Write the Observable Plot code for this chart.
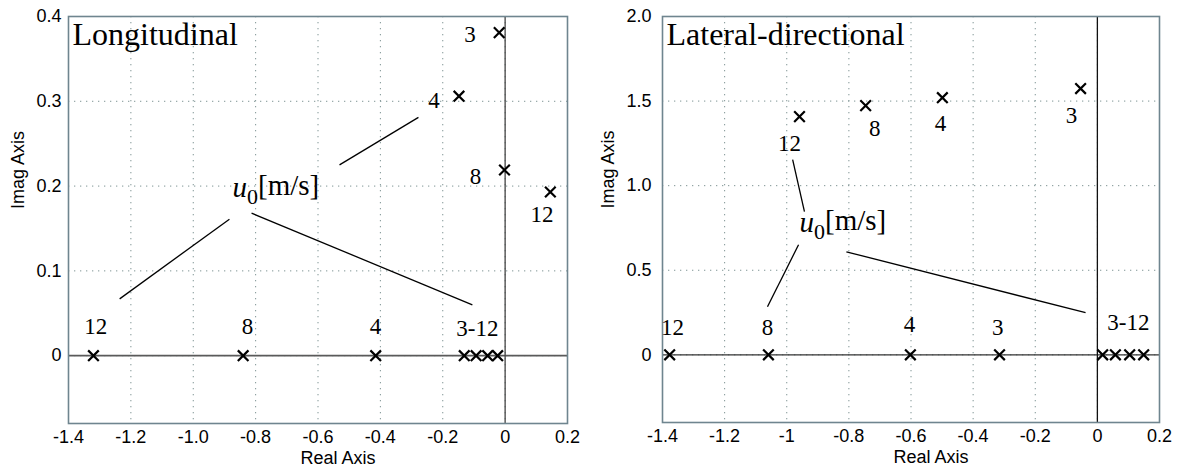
<!DOCTYPE html>
<html><head><meta charset="utf-8">
<script src="https://cdn.jsdelivr.net/npm/d3@7"></script>
<script src="https://cdn.jsdelivr.net/npm/@observablehq/plot@0.6"></script>
<style>
body{margin:0;background:#fff;}
#wrap{display:flex;width:1187px;height:475px;}
</style></head><body><div id="wrap"></div>
<script>
// ---- shared axis ticks ----
const xTicks = [-1.4, -1.2, -1.0, -0.8, -0.6, -0.4, -0.2, 0, 0.2];
const lonXTickLabels = ["-1.4", "-1.2", "-1.0", "-0.8", "-0.6", "-0.4", "-0.2", "0", "0.2"];
const latXTickLabels = ["-1.4", "-1.2", "-1", "-0.8", "-0.6", "-0.4", "-0.2", "0", "0.2"];
const lonYTicks = [0, 0.1, 0.2, 0.3, 0.4];
const lonYTickLabels = ["0", "0.1", "0.2", "0.3", "0.4"];
const latYTicks = [0, 0.5, 1.0, 1.5, 2.0];
const latYTickLabels = ["0", "0.5", "1.0", "1.5", "2.0"];

// ---- longitudinal poles ----
const lonComplexSpeed = [3, 4, 8, 12];
const lonComplexRe = [-0.019, -0.148, -0.002, 0.145];
const lonComplexIm = [0.381, 0.306, 0.219, 0.193];
const lonRealRe = [-1.32, -0.84, -0.415, -0.131, -0.093, -0.056, -0.024];

// ---- lateral-directional poles ----
const latComplexSpeed = [3, 4, 8, 12];
const latComplexRe = [-0.054, -0.499, -0.746, -0.959];
const latComplexIm = [1.574, 1.52, 1.473, 1.408];
const latRealRe = [-1.377, -1.059, -0.602, -0.315, 0.017, 0.058, 0.104, 0.149];

// ---- annotations (data units) ----
const lonLabelText = ["3", "4", "8", "12", "12", "8", "4", "3-12"];
const lonLabelRe = [-0.113, -0.228, -0.095, 0.118, -1.313, -0.826, -0.416, -0.089];
const lonLabelIm = [0.379, 0.301, 0.211, 0.166, 0.034, 0.034, 0.034, 0.032];
const lonLeaders = [
  [-0.531, 0.225, -0.278, 0.281],
  [-0.884, 0.161, -1.236, 0.067],
  [-0.813, 0.168, -0.105, 0.060]
];
const lonUnitPos = [-0.874, 0.198];

const latLabelText = ["12", "8", "4", "3", "12", "8", "4", "3", "3-12"];
const latLabelRe = [-0.991, -0.717, -0.505, -0.083, -1.368, -1.062, -0.605, -0.321, 0.100];
const latLabelIm = [1.249, 1.337, 1.367, 1.414, 0.16, 0.16, 0.18, 0.16, 0.19];
const latLeaders = [
  [-0.981, 1.154, -0.943, 0.846],
  [-0.962, 0.651, -1.062, 0.284],
  [-0.808, 0.609, -0.038, 0.249]
];
const latUnitPos = [-0.959, 0.781];

const SERIF = "'Liberation Serif', 'Times New Roman', serif";
const SANS = "'Liberation Sans', Arial, sans-serif";

function panel(cfg) {
  const complex = cfg.cRe.map((re, i) => ({re, im: cfg.cIm[i], u: cfg.cSpeed[i]}));
  const real = cfg.rRe.map(re => ({re, im: 0}));
  const labels = cfg.lText.map((t, i) => ({t, re: cfg.lRe[i], im: cfg.lIm[i]}));
  const leaders = cfg.leaders.map(([x1, y1, x2, y2]) => ({x1, y1, x2, y2}));
  const fmtX = d => cfg.xLabels[xTicks.indexOf(d)];
  const fmtY = d => cfg.yLabels[cfg.yTicks.indexOf(d)];
  const grid = {stroke: "#7f9494", strokeOpacity: 1, strokeWidth: 1, strokeDasharray: "1.3,4.7"};
  return Plot.plot({
    width: cfg.width, height: 475,
    marginLeft: cfg.ml, marginRight: cfg.mr, marginTop: 16, marginBottom: cfg.mb,
    style: {fontFamily: SANS, background: "#fff", color: "#000"},
    x: {domain: [-1.4, 0.2], axis: null},
    y: {domain: cfg.yDomain, axis: null},
    marks: [
      Plot.gridX(xTicks.slice(1, -1), grid),
      Plot.gridY(cfg.yTicks.filter(d => d > cfg.yDomain[0] && d < cfg.yDomain[1]), grid),
      Plot.ruleY([0], {stroke: cfg.zeroH, strokeWidth: cfg.zeroW}),
      Plot.ruleX([0], {stroke: cfg.zeroV, strokeWidth: 1.3}),
      Plot.frame({stroke: "#6f858f", strokeWidth: 1.6}),
      Plot.axisX(xTicks, {tickSize: 0, tickPadding: 7, tickFormat: fmtX, label: null}),
      Plot.axisY(cfg.yTicks, {tickSize: 0, tickPadding: cfg.yPad, tickFormat: fmtY, label: null}),
      Plot.link(leaders, {x1: "x1", y1: "y1", x2: "x2", y2: "y2", stroke: "#000", strokeWidth: 1.3}),
      Plot.dot(complex, {x: "re", y: "im", symbol: "times", r: 4.9, stroke: "#000", strokeWidth: 2.2}),
      Plot.dot(real, {x: "re", y: "im", symbol: "times", r: 4.9, stroke: "#000", strokeWidth: 2.2}),
      Plot.text(labels, {x: "re", y: "im", text: "t", fontFamily: SERIF, fontSize: 23, fill: "#000"}),
      Plot.text(["u0[m/s]"], {x: () => cfg.unit[0], y: () => cfg.unit[1], textAnchor: "start", fontFamily: SERIF, fontSize: 29, fill: "#000"}),
      Plot.text([cfg.title], {frameAnchor: "top-left", textAnchor: "start", lineAnchor: "middle", dx: 4, dy: 18, fontFamily: SERIF, fontSize: 32, fill: "#000"}),
      Plot.text(["Real Axis"], {frameAnchor: "bottom", lineAnchor: "middle", dy: 35, dx: 20, fontFamily: SANS, fontSize: 18, fill: "#000"}),
      Plot.text(["Imag Axis"], {frameAnchor: "left", lineAnchor: "middle", rotate: -90, dx: cfg.imagDx, dy: -11, fontFamily: SANS, fontSize: 18, fill: "#000"})
    ]
  });
}

const left = panel({
  width: 590, ml: 68, mr: 23, mb: 52, yDomain: [-0.08, 0.4], yTicks: lonYTicks, yLabels: lonYTickLabels,
  xLabels: lonXTickLabels, yPad: 7, cRe: lonComplexRe, cIm: lonComplexIm, cSpeed: lonComplexSpeed, rRe: lonRealRe,
  lText: lonLabelText, lRe: lonLabelRe, lIm: lonLabelIm, leaders: lonLeaders, unit: lonUnitPos,
  title: "Longitudinal", imagDx: -50, zeroH: "#5a5a5a", zeroV: "#444", zeroW: 1.8
});
const right = panel({
  width: 597, ml: 72, mr: 28, mb: 53, yDomain: [-0.4, 2.0], yTicks: latYTicks, yLabels: latYTickLabels,
  xLabels: latXTickLabels, yPad: 11, cRe: latComplexRe, cIm: latComplexIm, cSpeed: latComplexSpeed, rRe: latRealRe,
  lText: latLabelText, lRe: latLabelRe, lIm: latLabelIm, leaders: latLeaders, unit: latUnitPos,
  title: "Lateral-directional", imagDx: -54, zeroH: "#333", zeroV: "#111", zeroW: 1.3
});
const wrap = document.getElementById("wrap");
wrap.append(left, right);

// tick label font size
d3.selectAll('svg g[aria-label$="tick label"] text').style("font-size", "18px").style("font-family", SANS);

// subscript formatting for u0
d3.selectAll("svg text").each(function () {
  if (this.textContent === "u0[m/s]") {
    const t = d3.select(this);
    t.text(null);
    t.append("tspan").attr("font-style", "italic").text("u");
    t.append("tspan").attr("font-size", "22px").attr("dy", "0.3em").text("0");
    t.append("tspan").attr("dy", "-0.3em").text("[m/s]");
  }
});
</script></body></html>
